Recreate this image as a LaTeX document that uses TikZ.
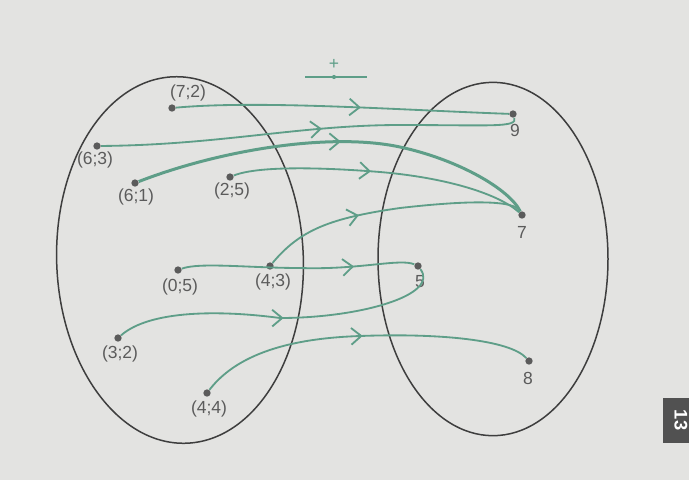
\documentclass[tikz,border=0pt]{standalone}
\usepackage{fontspec}
\setmainfont{Liberation Sans}
\usetikzlibrary{arrows.meta,decorations.markings}
\definecolor{paper}{HTML}{E3E3E1}
\definecolor{pen}{HTML}{3E3E3E}
\definecolor{ink}{HTML}{5E9E88}

\begin{document}
\begin{tikzpicture}[
          x=0.6pt,y=-0.6pt,
          dot/.style={
            circle,
            fill=pen!85,
            inner sep=0pt,
            minimum size=4.4pt
          },
          lbl/.style={font=\fontsize{10.5}{12}\selectfont,text=pen!85},
          ring/.style={draw=pen,line width=0.9pt},
          link/.style={draw=ink,line width=1.1pt},
          midarr/.style={postaction={decorate},
            decoration={markings,
              mark=at position #1 with {\arrow[ink,line width=1.1pt]{Straight Barb[length=6pt,width=10pt]}}}}
        ]
        \fill[paper] (0,0) rectangle (689,480);
        \useasboundingbox (0,0) rectangle (689,480);
        % the two sets
        \draw[ring,rotate around={2:(180,260)}] (180,260) ellipse [x radius=74pt,y radius=110pt];
        \draw[ring] (493,259) ellipse [x radius=69pt,y radius=106pt];
        % pairs
        \node[dot] (p72) at (172,108) {};
        \node[dot] (p63) at (97,146) {};
        \node[dot] (p61) at (135,183) {};
        \node[dot] (p25) at (230,177) {};
        \node[dot] (p05) at (178,270) {};
        \node[dot] (p43) at (270,266) {};
        \node[dot] (p32) at (118,338) {};
        \node[dot] (p44) at (207,393) {};
        \node[lbl] at (188,93) {(7;2)};
        \node[lbl] at (95,160) {(6;3)};
        \node[lbl] at (136,197) {(6;1)};
        \node[lbl] at (232,191) {(2;5)};
        \node[lbl] at (180,287) {(0;5)};
        \node[lbl] at (273,282) {(4;3)};
        \node[lbl] at (120,354) {(3;2)};
        \node[lbl] at (209,409) {(4;4)};
        % sums
        \node[dot] (r9) at (513,114) {};
        \node[dot] (r7) at (522,215) {};
        \node[dot] (r5) at (418,266) {};
        \node[dot] (r8) at (529,361) {};
        \node[lbl] at (515,130) {9};
        \node[lbl] at (522,232) {7};
        \node[lbl] at (420,282) {5};
        \node[lbl] at (528,378) {8};
        % links
        \draw[link,midarr=0.555] (p72) .. controls (260,100) and (400,110) .. (r9);
        \draw[link,midarr=0.53] (p63) .. controls (220,145) and (300,125) .. (400,125)
              .. controls (490,125) and (518,128) .. (r9);
        \draw[link,line width=1.8pt,midarr=0.51] (p61) .. controls (220,150) and (330,132) .. (400,147)
              .. controls (460,160) and (510,190) .. (r7);
        \draw[link,midarr=0.47] (p25) .. controls (260,165) and (330,168) .. (380,172)
              .. controls (450,178) and (500,195) .. (r7);
        \draw[link,midarr=0.38] (p43) .. controls (300,230) and (330,218) .. (400,208)
              .. controls (470,200) and (515,200) .. (r7);
        \draw[link,midarr=0.74] (p05) .. controls (200,262) and (250,268) .. (300,268)
              .. controls (360,270) and (400,258) .. (r5);
        \draw[link,midarr=0.51] (p32) .. controls (150,310) and (220,310) .. (280,318)
              .. controls (360,318) and (440,295) .. (r5);
        \draw[link,midarr=0.5] (p44) .. controls (240,350) and (300,338) .. (360,336)
              .. controls (440,333) and (510,340) .. (r8);
        % legend
        \coordinate (legl) at (305,77);
        \coordinate (legr) at (367,77);
        \node[dot,fill=ink,minimum size=2.5pt] (legm) at (334,77) {};
        \draw[link] (legl) -- (legr);
        \node[lbl,text=ink] at (334,64) {+};
        % page tab
        \node[fill=pen!90,text=white,rotate=-90,font=\bfseries\fontsize{11}{12}\selectfont,
              minimum width=27pt,minimum height=22pt,inner sep=1pt] (tab) at (681,420) {13};
      \end{tikzpicture}
\end{document}
